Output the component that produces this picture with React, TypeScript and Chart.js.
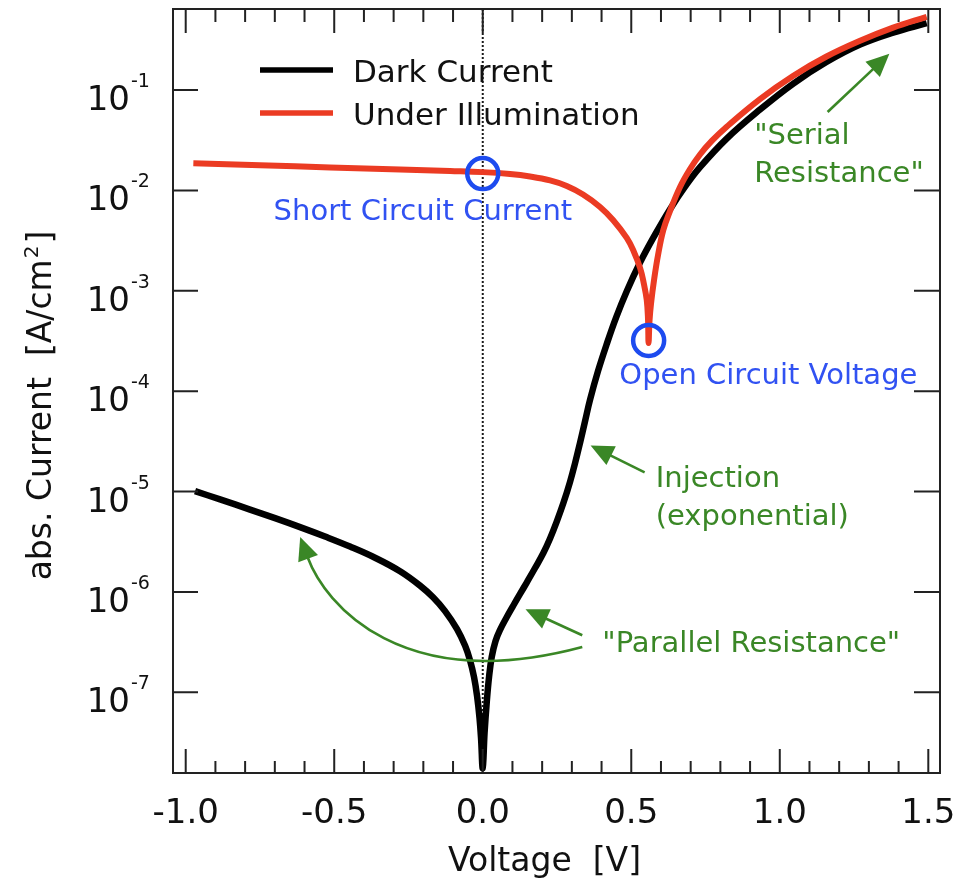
import { useEffect, useRef } from "react";
import { Chart, registerables } from "chart.js";

Chart.register(...registerables);

// ---------- data ----------
const DARK_VOLTAGE = [
  -0.9686, -0.8844, -0.7834, -0.6993, -0.6151, -0.5309, -0.4468, -0.3626, -0.2785, -0.2111, -0.1673,
  -0.1269, -0.0865, -0.0593, -0.0428, -0.0293, -0.0192, -0.0108, -0.0057, 0.0, 0.0061, 0.0135, 0.0212,
  0.0303, 0.0431, 0.0582, 0.0801, 0.103, 0.1256, 0.1481, 0.1761, 0.204, 0.2266, 0.2491, 0.272, 0.2939,
  0.3107, 0.3276, 0.3444, 0.3612, 0.3882, 0.4175, 0.4488, 0.4848, 0.5296, 0.5801, 0.6306, 0.6811,
  0.7315, 0.8214, 0.9335, 1.0457, 1.1557, 1.2702, 1.3813, 1.4947,
];
const DARK_CURRENT = [
  1.01e-5, 8.35e-6, 6.61e-6, 5.43e-6, 4.42e-6, 3.56e-6, 2.83e-6, 2.19e-6, 1.607e-6, 1.156e-6, 8.84e-7,
  6.44e-7, 4.26e-7, 2.9e-7, 2.08e-7, 1.414e-7, 9.23e-8, 5.51e-8, 3.48e-8, 1.75e-8, 3.94e-8, 8.0e-8,
  1.42e-7, 2.25e-7, 3.24e-7, 4.18e-7, 5.56e-7, 7.32e-7, 9.54e-7, 1.24e-6, 1.73e-6, 2.44e-6, 3.41e-6,
  5.02e-6, 7.76e-6, 1.25e-5, 1.91e-5, 3.06e-5, 5.01e-5, 8.2e-5, 1.59e-4, 2.95e-4, 5.4e-4, 9.9e-4,
  1.91e-3, 3.62e-3, 6.5e-3, 0.01089, 0.01702, 0.0328, 0.0638, 0.1159, 0.1888, 0.2831, 0.3724, 0.4624,
];
const LIGHT_VOLTAGE = [
  -0.9743, -0.7498, -0.5141, -0.2785, -0.1101, 0.0, 0.0919, 0.1592, 0.2266, 0.2828, 0.3377, 0.3949,
  0.4386, 0.4848, 0.5077, 0.5296, 0.5413, 0.5521, 0.5565, 0.5582, 0.5616, 0.5666, 0.5767, 0.5902,
  0.608, 0.6306, 0.6642, 0.6979, 0.7315, 0.7719, 0.8214, 0.9335, 1.0457, 1.1557, 1.2702, 1.3813, 1.4947,
];
const LIGHT_CURRENT = [
  0.01862, 0.01778, 0.01694, 0.01615, 0.0156, 0.0152, 0.01455, 0.01374, 0.01256, 0.01107, 9.1e-3,
  6.84e-3, 5.07e-3, 3.36e-3, 2.49e-3, 1.69e-3, 1.22e-3, 8.09e-4, 5.11e-4, 3.02e-4, 5.11e-4, 7.5e-4,
  1.28e-3, 2.27e-3, 4.04e-3, 6.24e-3, 0.01081, 0.01633, 0.02278, 0.03127, 0.0431, 0.0812, 0.1385,
  0.2143, 0.3092, 0.4185, 0.5362,
];
const MARKER_VOLTAGE = [0.0, 0.5585];
const MARKER_CURRENT = [0.0147, 3.2e-4];

const SERIES_LABELS = ["Dark Current", "Under Illumination"];
const X_MAJOR_TICKS = [-1.0, -0.5, 0.0, 0.5, 1.0, 1.5];
const X_TICK_LABELS = ["-1.0", "-0.5", "0.0", "0.5", "1.0", "1.5"];
const Y_TICK_EXPONENTS = [-1, -2, -3, -4, -5, -6, -7];
const X_RANGE = [-1.0428, 1.5394];
const Y_RANGE = [1.57e-8, 0.641];
const X_TITLE = "Voltage  [V]";
const Y_TITLE_PARTS = ["abs. Current  [A/cm", "2", "]"];

// ---------- annotations (data coordinates) ----------
const BLUE_TEXT = "#3152f2";
const BLUE_RING = "#1d4bef";
const GREEN = "#3a8726";
const RED = "#eb3b23";

const TEXT_NOTES = [
  { text: "Short Circuit Current", v: -0.2016, i: 5.03e-3, align: "center", color: BLUE_TEXT },
  { text: "Open Circuit Voltage", v: 0.9616, i: 1.19e-4, align: "center", color: BLUE_TEXT },
  { text: "Injection", v: 0.5823, i: 1.109e-5, align: "left", color: GREEN },
  { text: "(exponential)", v: 0.5823, i: 4.61e-6, align: "left", color: GREEN },
  { text: "\"Parallel Resistance\"", v: 0.4026, i: 2.52e-7, align: "left", color: GREEN },
  { text: "\"Serial", v: 0.9137, i: 0.0292, align: "left", color: GREEN },
  { text: "Resistance\"", v: 0.9137, i: 0.0121, align: "left", color: GREEN },
];
const STRAIGHT_ARROWS = [
  { from: [1.161, 0.0603], to: [1.369, 0.23] },
  { from: [0.545, 1.55e-5], to: [0.363, 2.88e-5] },
  { from: [0.335, 3.7e-7], to: [0.144, 6.71e-7] },
];
const CURVED_ARROW = [
  [0.3351, 2.82e-7],
  [-0.2717, 9.33e-8],
  [-0.5303, 7.36e-7],
  [-0.6146, 3.52e-6],
];

const FONT = "'DejaVu Sans', sans-serif";

function arrowHead(ctx: CanvasRenderingContext2D, tx: number, ty: number, dx: number, dy: number, len: number, hw: number) {
  const m = Math.hypot(dx, dy);
  const ux = dx / m;
  const uy = dy / m;
  const bx = tx - ux * len;
  const by = ty - uy * len;
  ctx.beginPath();
  ctx.moveTo(tx, ty);
  ctx.lineTo(bx - uy * hw, by + ux * hw);
  ctx.lineTo(bx + uy * hw, by - ux * hw);
  ctx.closePath();
  ctx.fill();
  return [bx + ux * 2, by + uy * 2];
}

const decorPlugin = {
  id: "decor",
  beforeDatasetsDraw(chart: any) {
    const { ctx, chartArea: a, scales } = chart;
    const x0 = scales.x.getPixelForValue(0);
    ctx.save();
    ctx.strokeStyle = "#1a1a1a";
    ctx.lineWidth = 2;
    ctx.setLineDash([2, 2]);
    ctx.beginPath();
    ctx.moveTo(x0, a.top);
    ctx.lineTo(x0, a.bottom);
    ctx.stroke();
    ctx.restore();
  },
  afterDatasetsDraw(chart: any) {
    const { ctx, chartArea: a, scales } = chart;
    const xs = scales.x;
    const ys = scales.y;
    const px = (v: number) => xs.getPixelForValue(v);
    const py = (i: number) => ys.getPixelForValue(i);
    ctx.save();

    // frame
    ctx.strokeStyle = "#222";
    ctx.lineWidth = 2;
    ctx.strokeRect(a.left, a.top, a.right - a.left, a.bottom - a.top);

    // x ticks (inward, top and bottom)
    ctx.beginPath();
    for (let k = 0; k < X_MAJOR_TICKS.length; k++) {
      const v = X_MAJOR_TICKS[k];
      const p = px(v);
      ctx.moveTo(p, a.bottom);
      ctx.lineTo(p, a.bottom - 24);
      ctx.moveTo(p, a.top);
      ctx.lineTo(p, a.top + 24);
      if (k < X_MAJOR_TICKS.length - 1) {
        for (let m = 1; m < 5; m++) {
          const q = px(v + (m * (X_MAJOR_TICKS[k + 1] - v)) / 5);
          ctx.moveTo(q, a.bottom);
          ctx.lineTo(q, a.bottom - 12);
          ctx.moveTo(q, a.top);
          ctx.lineTo(q, a.top + 13);
        }
      }
    }
    // y ticks (inward, left and right)
    for (const e of Y_TICK_EXPONENTS) {
      const p = py(Math.pow(10, e));
      ctx.moveTo(a.left, p);
      ctx.lineTo(a.left + 25, p);
      ctx.moveTo(a.right, p);
      ctx.lineTo(a.right - 26, p);
    }
    ctx.stroke();

    // x tick labels
    ctx.fillStyle = "#111";
    ctx.font = `34px ${FONT}`;
    ctx.textAlign = "center";
    ctx.textBaseline = "alphabetic";
    X_MAJOR_TICKS.forEach((v, k) => ctx.fillText(X_TICK_LABELS[k], px(v), a.bottom + 50));

    // y tick labels 10^e
    for (const e of Y_TICK_EXPONENTS) {
      const p = py(Math.pow(10, e));
      ctx.font = `34px ${FONT}`;
      ctx.textAlign = "right";
      ctx.fillText("10", a.left - 43, p + 20);
      ctx.font = `19px ${FONT}`;
      ctx.textAlign = "left";
      ctx.fillText(String(e), a.left - 42, p - 3);
    }

    // x title
    ctx.font = `33px ${FONT}`;
    ctx.textAlign = "center";
    ctx.fillText(X_TITLE, (a.left + a.right) / 2 - 12, a.bottom + 98);

    // y title (rotated, with superscript)
    ctx.save();
    ctx.translate(51, 406);
    ctx.rotate(-Math.PI / 2);
    ctx.textAlign = "left";
    ctx.font = `33px ${FONT}`;
    const w0 = ctx.measureText(Y_TITLE_PARTS[0]).width;
    const w2 = ctx.measureText(Y_TITLE_PARTS[2]).width;
    ctx.font = `20px ${FONT}`;
    const w1 = ctx.measureText(Y_TITLE_PARTS[1]).width + 2;
    let cx = -(w0 + w1 + w2) / 2;
    ctx.font = `33px ${FONT}`;
    ctx.fillText(Y_TITLE_PARTS[0], cx, 0);
    cx += w0 + 1;
    ctx.font = `20px ${FONT}`;
    ctx.fillText(Y_TITLE_PARTS[1], cx, -13);
    cx += w1;
    ctx.font = `33px ${FONT}`;
    ctx.fillText(Y_TITLE_PARTS[2], cx, 0);
    ctx.restore();

    // legend
    const datasets = chart.data.datasets;
    SERIES_LABELS.forEach((lab, k) => {
      const ds = datasets.find((d: any) => d.label === lab);
      const ly = a.top + 61 + k * 43;
      ctx.strokeStyle = ds.borderColor;
      ctx.lineWidth = 5.5;
      ctx.beginPath();
      ctx.moveTo(a.left + 87, ly);
      ctx.lineTo(a.left + 160, ly);
      ctx.stroke();
      ctx.fillStyle = "#111";
      ctx.font = `31px ${FONT}`;
      ctx.textAlign = "left";
      ctx.fillText(lab, a.left + 180, ly + 11.5);
    });

    // text notes
    ctx.font = `29px ${FONT}`;
    for (const n of TEXT_NOTES) {
      ctx.fillStyle = n.color;
      ctx.textAlign = n.align as CanvasTextAlign;
      ctx.fillText(n.text, px(n.v), py(n.i));
    }

    // arrows
    ctx.strokeStyle = GREEN;
    ctx.fillStyle = GREEN;
    ctx.lineWidth = 2.6;
    for (const ar of STRAIGHT_ARROWS) {
      const fx = px(ar.from[0]);
      const fy = py(ar.from[1]);
      const tx = px(ar.to[0]);
      const ty = py(ar.to[1]);
      const [bx, by] = arrowHead(ctx, tx, ty, tx - fx, ty - fy, 23, 10.5);
      ctx.beginPath();
      ctx.moveTo(fx, fy);
      ctx.lineTo(bx, by);
      ctx.stroke();
    }
    const cp = CURVED_ARROW.map(([v, i]) => [px(v), py(i)]);
    const [bx, by] = arrowHead(ctx, cp[3][0], cp[3][1], cp[3][0] - cp[2][0], cp[3][1] - cp[2][1], 23, 10.5);
    ctx.beginPath();
    ctx.moveTo(cp[0][0], cp[0][1]);
    ctx.bezierCurveTo(cp[1][0], cp[1][1], cp[2][0], cp[2][1], bx, by);
    ctx.stroke();

    ctx.restore();
  },
};

export default function App() {
  const ref = useRef<HTMLCanvasElement>(null);
  useEffect(() => {
    const toPts = (xs: number[], ys: number[]) => xs.map((x, k) => ({ x, y: ys[k] }));
    const chart = new Chart(ref.current as HTMLCanvasElement, {
      type: "line",
      data: {
        datasets: [
          {
            label: SERIES_LABELS[0],
            data: toPts(DARK_VOLTAGE, DARK_CURRENT),
            borderColor: "#000000",
            borderWidth: 6.5,
            pointRadius: 0,
            tension: 0.4,
            borderJoinStyle: "round",
            fill: false,
            order: 3,
          },
          {
            label: SERIES_LABELS[1],
            data: toPts(LIGHT_VOLTAGE, LIGHT_CURRENT),
            borderColor: RED,
            borderWidth: 6,
            pointRadius: 0,
            tension: 0.4,
            borderJoinStyle: "round",
            fill: false,
            order: 2,
          },
          {
            label: "markers",
            data: toPts(MARKER_VOLTAGE, MARKER_CURRENT),
            showLine: false,
            pointRadius: 15.5,
            pointBorderWidth: 4.5,
            pointBorderColor: BLUE_RING,
            pointBackgroundColor: "rgba(0,0,0,0)",
            order: 1,
          },
        ],
      },
      options: {
        animation: false,
        responsive: false,
        devicePixelRatio: 1,
        events: [],
        layout: { autoPadding: false, padding: { left: 173, top: 9, right: 25, bottom: 113 } },
        plugins: { legend: { display: false }, tooltip: { enabled: false } },
        scales: {
          x: { type: "linear", min: X_RANGE[0], max: X_RANGE[1], display: false },
          y: { type: "logarithmic", min: Y_RANGE[0], max: Y_RANGE[1], display: false },
        },
      },
      plugins: [decorPlugin],
    } as any);
    return () => chart.destroy();
  }, []);
  return (
    <div style={{ position: "fixed", left: 0, top: 0, width: 965, height: 886, background: "#fff" }}>
      <canvas ref={ref} width={965} height={886} style={{ width: 965, height: 886, display: "block" }} />
    </div>
  );
}
